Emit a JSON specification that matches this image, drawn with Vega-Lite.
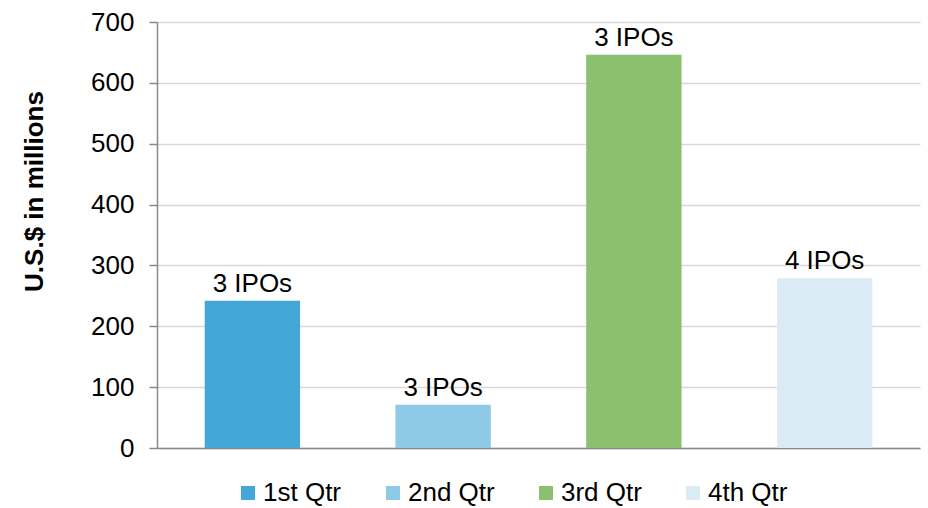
{
  "$schema": "https://vega.github.io/schema/vega-lite/v6.json",
  "width": 763,
  "height": 426,
  "autosize": {"type": "none"},
  "padding": {"left": 157, "top": 22, "right": 8, "bottom": 60},
  "config": {
    "font": "Liberation Sans",
    "view": {"stroke": null},
    "axis": {"labelColor": "#000000", "titleColor": "#000000"}
  },
  "data": {
    "values": [
      {"q": "1st Qtr", "v": 242, "label": "3 IPOs"},
      {"q": "2nd Qtr", "v": 71, "label": "3 IPOs"},
      {"q": "3rd Qtr", "v": 646, "label": "3 IPOs"},
      {"q": "4th Qtr", "v": 279, "label": "4 IPOs"}
    ]
  },
  "encoding": {
    "x": {
      "field": "q",
      "type": "nominal",
      "sort": null,
      "scale": {"paddingInner": 0.5, "paddingOuter": 0.25},
      "axis": {"title": null, "labels": false, "ticks": false, "domainColor": "#898989", "domainWidth": 1.5}
    },
    "y": {
      "field": "v",
      "type": "quantitative",
      "scale": {"domain": [0, 700]},
      "axis": {
        "values": [0, 100, 200, 300, 400, 500, 600, 700],
        "title": "U.S.$ in millions",
        "titleFontSize": 26,
        "titleFontWeight": "bold",
        "titleX": -123,
        "titleY": 169,
        "titleAngle": 270,
        "titleAlign": "center",
        "titleBaseline": "middle",
        "labelFontSize": 26,
        "labelPadding": 15,
        "tickSize": 8,
        "tickColor": "#898989",
        "tickWidth": 1.5,
        "domainColor": "#898989",
        "domainWidth": 1.5,
        "gridColor": "#d9d9d9",
        "gridWidth": 1.5
      }
    }
  },
  "layer": [
    {
      "mark": {"type": "bar"},
      "encoding": {
        "color": {
          "field": "q",
          "type": "nominal",
          "sort": null,
          "scale": {"range": ["#45A6D8", "#8EC9E8", "#8AC06E", "#DAEBF5"]},
          "legend": {
            "title": null,
            "orient": "none",
            "direction": "horizontal",
            "legendX": 78,
            "legendY": 458,
            "padding": 0,
            "symbolType": "square",
            "symbolSize": 196,
            "symbolStrokeWidth": 0,
            "labelFontSize": 26,
            "labelOffset": 2,
            "labelColor": "#000000",
            "columnPadding": 38,
            "labelLimit": 200
          }
        }
      }
    },
    {
      "mark": {"type": "text", "baseline": "alphabetic", "dy": -9, "fontSize": 26, "color": "#000000"},
      "encoding": {"text": {"field": "label"}}
    }
  ]
}
